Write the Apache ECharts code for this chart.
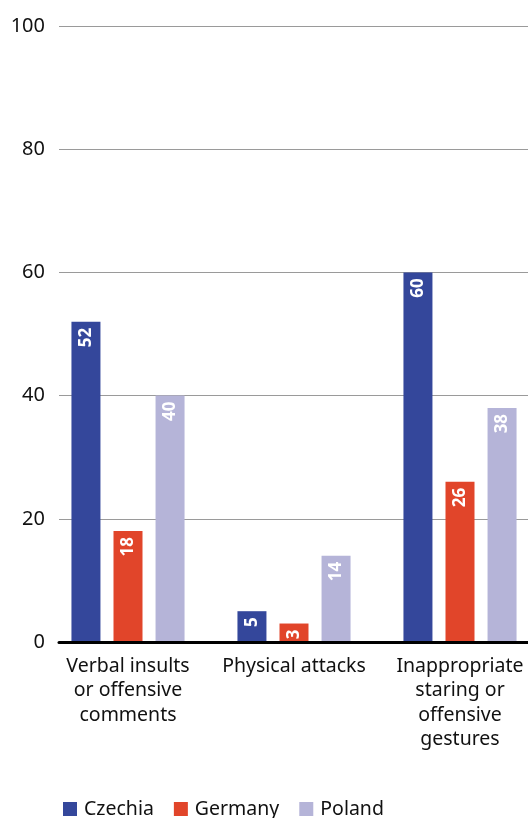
<!DOCTYPE html>
<html>
<head>
<meta charset="utf-8">
<script src="https://cdn.jsdelivr.net/npm/echarts@6/dist/echarts.min.js"></script>
<style>
  html, body { margin: 0; padding: 0; background: #fff; }
  #chart { width: 528px; height: 818px; }
</style>
</head>
<body>
<div id="chart"></div>
<script>
// Share of respondents who experienced each type of harassment (%)
const categories = [
  'Verbal insults\nor offensive\ncomments',
  'Physical attacks',
  'Inappropriate\nstaring or\noffensive\ngestures'
];
const czechia = [52, 5, 60];
const germany = [18, 3, 26];
const poland = [40, 14, 38];
const yTicks = [0, 20, 40, 60, 80, 100];

const FONT = '"Noto Sans", "Open Sans", sans-serif';
const colors = { czechia: '#34479b', germany: '#e1452a', poland: '#b5b4d8' };

const valueLabel = {
  show: true,
  position: 'insideTop',
  rotate: 90,
  align: 'right',
  verticalAlign: 'middle',
  distance: 6,
  color: '#ffffff',
  fontFamily: FONT,
  fontWeight: 'bold',
  fontSize: 17
};

function barSeries(name, data, color) {
  return {
    name: name,
    type: 'bar',
    xAxisIndex: 1,
    yAxisIndex: 1,
    data: data,
    barWidth: 29,
    barGap: '45%',
    itemStyle: { color: color },
    label: valueLabel
  };
}

const chart = echarts.init(document.getElementById('chart'), null, { renderer: 'canvas' });
chart.setOption({
  animation: false,
  backgroundColor: '#ffffff',
  grid: [
    // frame for the value scale, gridlines and baseline
    { left: 59, right: 0, top: 26, bottom: 176, outerBoundsMode: 'none' },
    // frame for the bars and category labels; wider than the canvas on the right
    { left: 45, width: 498, top: 26, bottom: 176, outerBoundsMode: 'none', containLabel: false }
  ],
  xAxis: [
    {
      gridIndex: 0,
      type: 'category',
      data: categories,
      axisLine: { show: true, lineStyle: { color: '#000', width: 3 } },
      axisTick: { show: false },
      axisLabel: { show: false },
      z: 5
    },
    {
      gridIndex: 1,
      type: 'category',
      data: categories,
      axisLine: { show: false },
      axisTick: { show: false },
      axisLabel: {
        margin: 12,
        color: '#111',
        fontFamily: FONT,
        fontSize: 19.5,
        lineHeight: 24.5,
        interval: 0
      }
    }
  ],
  yAxis: [
    {
      gridIndex: 0,
      type: 'value',
      min: yTicks[0],
      max: yTicks[yTicks.length - 1],
      interval: yTicks[1] - yTicks[0],
      axisLine: { show: false },
      axisTick: { show: false },
      axisLabel: { margin: 14, color: '#111', fontFamily: FONT, fontSize: 20 },
      splitLine: { show: true, lineStyle: { color: '#9a9a9a', width: 1 } }
    },
    {
      gridIndex: 1,
      type: 'value',
      min: yTicks[0],
      max: yTicks[yTicks.length - 1],
      show: false,
      splitLine: { show: false }
    }
  ],
  legend: {
    left: 58,
    top: 794,
    itemWidth: 14,
    itemHeight: 14,
    itemGap: 20,
    icon: 'rect',
    textStyle: { color: '#111', fontFamily: FONT, fontSize: 19.5, padding: [0, 0, 0, 2] },
    data: ['Czechia', 'Germany', 'Poland']
  },
  series: [
    barSeries('Czechia', czechia, colors.czechia),
    barSeries('Germany', germany, colors.germany),
    barSeries('Poland', poland, colors.poland)
  ]
});
</script>
</body>
</html>
